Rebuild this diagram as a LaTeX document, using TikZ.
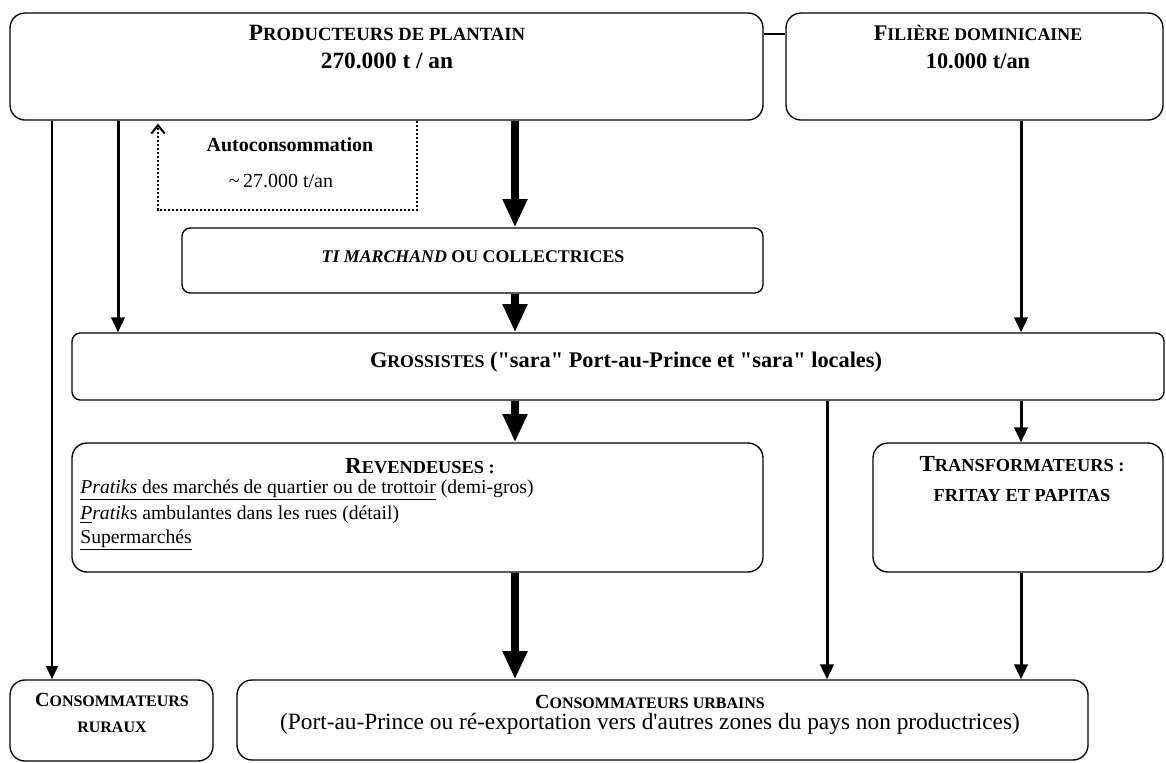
\documentclass[tikz,border=0pt]{standalone}
\usepackage{fontspec}
\setmainfont{Liberation Serif}[Ligatures=TeXOff]
\usetikzlibrary{arrows.meta,positioning,calc,fit}
% petites capitales simulees : taille, initiale, reste
\newcommand{\petitcap}[3]{#2{\fontsize{#1}{#1}\selectfont #3}}
\begin{document}
\begin{tikzpicture}[
  x=0.6pt,y=-0.6pt,
  box/.style={draw,rounded corners=9pt,line width=0.8pt,inner sep=0pt},
  titre/.style={font=\fontsize{12pt}{12.6pt}\selectfont\bfseries,align=center,inner sep=0pt},
  texte/.style={font=\fontsize{14pt}{13.8pt}\selectfont,inner sep=0pt},
  fine/.style={-{Triangle[length=8pt,width=7pt]},line width=1.2pt},
  moyen/.style={-{Triangle[length=9pt,width=8pt]},line width=1.8pt},
  epais/.style={-{Triangle[length=17pt,width=14pt]},line width=4.8pt},
  autocons/.style={-{Straight Barb[length=5pt,width=8pt]},line width=1.2pt,dash pattern=on 1.2pt off 1.2pt}
]
\useasboundingbox (0,0) rectangle (1166,762);
% boites
\node[box,fit={(10,13) (763,120)}] (prod) {};
\node[box,fit={(786,13) (1163,120)}] (fil) {};
\node[box,rounded corners=5pt,fit={(182,228) (763,293)}] (ti) {};
\node[box,rounded corners=5pt,fit={(72,333) (1164,400)}] (gros) {};
\node[box,fit={(72,443) (763,572)}] (rev) {};
\node[box,fit={(873,443) (1163,572)}] (trans) {};
\node[box,fit={(10,680) (213,761)}] (rural) {};
\node[box,fit={(237,680) (1088,760)}] (urb) {};
% textes
\node[titre,font=\fontsize{14pt}{16.8pt}\selectfont\bfseries] (prodtxt) at (387,47)
  {\petitcap{11.2pt}{P}{RODUCTEURS DE PLANTAIN}\\270.000 t / an};
\node[titre,font=\fontsize{13.4pt}{16.8pt}\selectfont\bfseries] (filtxt) at (978,47)
  {\petitcap{10.7pt}{F}{ILIÈRE DOMINICAINE}\\10.000 t/an};
\node[titre] (autotxt) at (290,145) {Autoconsommation};
\node[texte,font=\fontsize{12pt}{13.8pt}\selectfont] (quantite) at (281,181) {\textasciitilde\,27.000 t/an};
\node[titre,font=\fontsize{10.7pt}{12pt}\selectfont\bfseries] (titxt) at (473,257) {\textit{TI MARCHAND} OU COLLECTRICES};
\node[titre,font=\fontsize{13.4pt}{14pt}\selectfont\bfseries] (grostxt) at (626,362)
  {\petitcap{10.7pt}{G}{ROSSISTES} ("sara" Port-au-Prince et "sara" locales)};
\node[titre,font=\fontsize{13.8pt}{14pt}\selectfont\bfseries] (revtxt) at (420,466) {\petitcap{11pt}{R}{EVENDEUSES :}};
\node[texte,font=\fontsize{11.8pt}{14pt}\selectfont,anchor=west] (rev1) at (80,490)
  {\underline{\textit{Pratiks} des marchés de quartier ou de trottoir} (demi-gros)};
\node[texte,font=\fontsize{11.8pt}{14pt}\selectfont,anchor=west] (rev2) at (80,515)
  {\underline{\textit{P}}\textit{ratik}s ambulantes dans les rues (détail)};
\node[texte,font=\fontsize{11.8pt}{14pt}\selectfont,anchor=west] (rev3) at (80,540) {\underline{Supermarchés}};
\node[titre,font=\fontsize{13.8pt}{14pt}\selectfont\bfseries] (transtxt) at (1022,479)
  {\petitcap{11pt}{T}{RANSFORMATEURS :}\\[4pt]\petitcap{11pt}{}{FRITAY ET PAPITAS}};
\node[titre] (ruraltxt) at (112,713) {\petitcap{9.6pt}{C}{ONSOMMATEURS}\\[3pt]\petitcap{9.6pt}{}{RURAUX}};
\node[titre] (urbtxt) at (650,702) {\petitcap{9.6pt}{C}{ONSOMMATEURS URBAINS}};
\node[texte] (urbsous) at (650,724) {(Port-au-Prince ou ré-exportation vers d'autres zones du pays non productrices)};
% colonnes des fleches
\coordinate (k1) at (52,0);
\coordinate (k2) at (118,0);
\coordinate (k3) at (515,0);
\coordinate (k4) at (827,0);
\coordinate (k5) at (1021,0);
\coordinate (d1) at (158,0);
\coordinate (d2) at (417,0);
\coordinate (bas) at (0,210);
\coordinate (lien) at (0,34);
% liaisons
\draw[line width=0.8pt] (lien -| prod.east) -- (lien -| fil.west);
\draw[fine] (prod.south -| k1) -- (rural.north -| k1);
\draw[moyen] (prod.south -| k2) -- (gros.north -| k2);
\draw[autocons] (prod.south -| d2) -- (bas -| d2) -- (bas -| d1) -- ($(prod.south -| d1)+(0,3)$);
\draw[epais] (prod.south -| k3) -- (ti.north -| k3);
\draw[epais] (ti.south -| k3) -- (gros.north -| k3);
\draw[epais] (gros.south -| k3) -- (rev.north -| k3);
\draw[epais] (rev.south -| k3) -- (urb.north -| k3);
\draw[moyen] (fil.south -| k5) -- (gros.north -| k5);
\draw[moyen] (gros.south -| k5) -- (trans.north -| k5);
\draw[moyen] (trans.south -| k5) -- (urb.north -| k5);
\draw[moyen] (gros.south -| k4) -- (urb.north -| k4);
\end{tikzpicture}
\end{document}
